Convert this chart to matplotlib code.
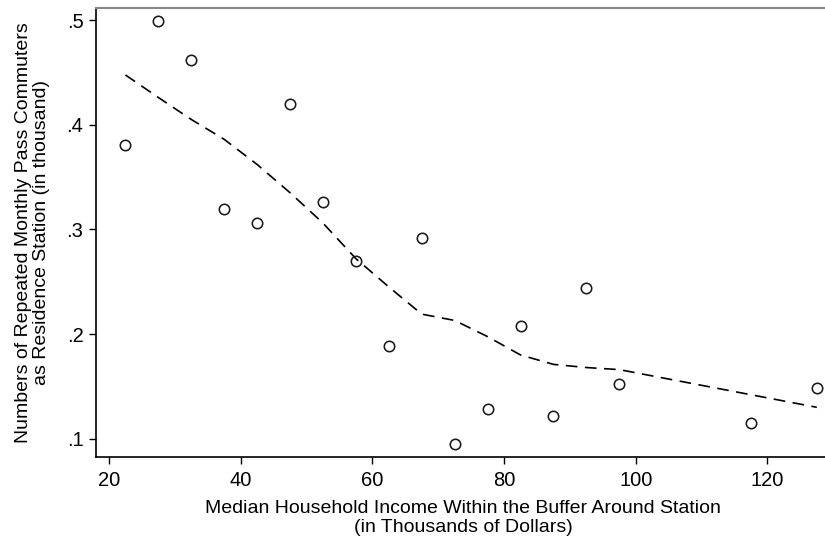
import matplotlib
matplotlib.use("Agg")
import matplotlib.pyplot as plt

plt.rcParams['font.family'] = ['Liberation Sans', 'DejaVu Sans']

income = [22.5, 27.5, 32.5, 37.5, 42.5, 47.5, 52.5, 57.5, 62.5, 67.5,
          72.5, 77.5, 82.5, 87.5, 92.5, 97.5, 117.5, 127.5]
commuters = [0.381, 0.499, 0.462, 0.319, 0.306, 0.420, 0.326, 0.270, 0.189, 0.292,
             0.095, 0.128, 0.208, 0.122, 0.244, 0.152, 0.115, 0.148]
lowess_fit = [0.4475, 0.426, 0.405, 0.386, 0.362, 0.335, 0.306, 0.272, 0.245, 0.219,
              0.213, 0.1975, 0.180, 0.171, 0.168, 0.166, 0.142, 0.130]

xticks = [20, 40, 60, 80, 100, 120]
yticks = [0.1, 0.2, 0.3, 0.4, 0.5]
ytick_labels = ['.1', '.2', '.3', '.4', '.5']

W, H = 825, 540
fig = plt.figure(figsize=(W / 100, H / 100), dpi=100)
left, right, top, bottom = 96, 830, 8, 456.7
ax = fig.add_axes([left / W, 1 - bottom / H, (right - left) / W, (bottom - top) / H])

ax.plot(income, lowess_fit, color='black', lw=1.2, dashes=(7, 4.5), zorder=2)
ax.plot(income, commuters, linestyle='none', marker='o', markersize=7.5,
        markerfacecolor='none', markeredgecolor='#1a1a1a', markeredgewidth=1.15, zorder=3)

ax.set_xlim(18.03, 129.5)
ax.set_ylim(0.0828, 0.5115)
ax.set_xticks(xticks)
ax.set_yticks(yticks)
ax.set_yticklabels(ytick_labels)
ax.tick_params(axis='both', labelsize=14.5, length=5, width=1, color='black')
ax.tick_params(axis='x', pad=5)
ax.tick_params(axis='y', pad=4)

for s in ['left', 'bottom']:
    ax.spines[s].set_linewidth(1.2)
    ax.spines[s].set_color('black')
ax.spines['right'].set_visible(False)
ax.spines['top'].set_color('#888888')
ax.spines['top'].set_linewidth(1.5)

ax.set_xlabel('Median Household Income Within the Buffer Around Station\n(in Thousands of Dollars)',
              fontsize=14, labelpad=7.5, linespacing=1.12)
ax.set_ylabel('Numbers of Repeated Monthly Pass Commuters\nas Residence Station (in thousand)',
              fontsize=14, labelpad=12, linespacing=1.1)

fig.savefig('out.png', dpi=100)
